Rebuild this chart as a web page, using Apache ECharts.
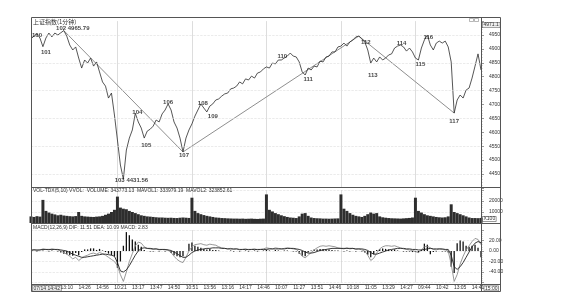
<!DOCTYPE html>
<html><head><meta charset="utf-8">
<script src="https://cdn.jsdelivr.net/npm/echarts/dist/echarts.min.js"></script>
<style>html,body{margin:0;padding:0;background:#fff}#c{width:561px;height:308px}</style>
</head><body><div id="c"></div>
<script>
// ---- data ----
const price = [
4936,4946,4954,4939,4908,4939,4957,4943,4957,4950,4958,4965.79,4946,4914,4896,4907,4867,4831,4860,4849,
4867,4838,4853,4817,4781,4766,4723,4741,4662,4572,4482,4431.56,4536,4579,4608,4668,4637,4615,4579,4604,
4611,4622,4644,4637,4666,4680,4702,4680,4637,4615,4579,4529,4579,4608,4630,4658,4680,4702,4687,4673,
4694,4702,4716,4720,4730,4738,4741,4756,4759,4766,4781,4774,4792,4788,4802,4795,4813,4817,4828,4835,
4831,4849,4846,4860,4860,4867,4874,4885,4874,4871,4853,4817,4806,4831,4824,4838,4835,4856,4853,4871,
4874,4889,4889,4907,4910,4921,4910,4925,4932,4943,4946,4936,4925,4896,4849,4867,4853,4871,4860,4867,
4878,4882,4903,4910,4914,4907,4892,4903,4889,4867,4860,4903,4932,4950,4914,4896,4921,4928,4921,4928,
4907,4853,4669,4716,4734,4723,4752,4759,4795,4838,4882,4824];
const volume = [
6000,5500,6200,5800,21000,11000,9500,8500,7800,7000,7500,6800,6500,6200,6000,6300,
10000,6500,6000,5800,5600,5500,5800,6000,6500,7500,8500,10000,12000,24000,
14000,13000,12500,11000,10000,9000,8000,7000,6500,6000,5800,5500,5200,5000,5000,4800,4700,4800,4600,4500,4800,5000,4800,4600,
23000,11000,9000,8000,7200,6500,6000,5500,5000,4800,4500,4400,4200,4100,4000,4000,3900,4000,3800,3900,4000,3800,3700,3900,4000,
26000,12000,10500,9000,8000,7000,6200,5500,5000,4800,4500,6000,8500,9000,6500,5000,4500,4300,4200,4000,4000,3900,4000,4100,4200,
26000,13000,11000,9000,7500,6500,6000,5500,6500,8000,9500,8500,9000,6000,5200,4800,4500,4300,4200,4100,4000,4200,4400,4600,5000,
23000,11000,9500,8000,7000,6500,6000,5500,5200,5000,5200,6000,
17000,10000,9000,8000,7000,6000,5000,4500,4500,4400,4600];
const dif = [
2,3,1,2,4, 3,2,4,3,2, 0,-3,-6, -10,-15,-12,-18,-14,-10, -8,-5,-4,-6,-3,-5,-8, -12,-16,-20,
-28,-45,-58,-40,-20,-5,10,17,15,8, 5,4,3,4,2,3,2, 2,-3,-10,-16,-20,-22,-12,0,8,
12,13,14,12,11,13,12,11, 8,6,5,4,5,3,4,2,3,4,2,3,4,2,3,4, 6,5,4,6,5,4,5,6,5,4,3,
-2,-10,-13,-8,-3,2, 6,9,10,9,10,9,8,6, 5,4,6,4,5,3,4,2,0, -8,-18,-14,-4,
4,8,10,10,9,10,8, 6,4,3,2,1,-1,-3, 2,8,9, 6,3,2,4,3,2,0,
-25,-58,-45,-25,-10,2,10,18,24,22,12];
const dea = [
1,2,2,2,3, 3,3,3,3,3, 2,1,0, -3,-6,-8,-10,-12,-12, -11,-10,-9,-8,-7,-6,-6, -7,-8,-10,
-22,-38,-40,-36,-28,-18,-8,0,5,6, 5,5,4,4,3,3,3, 2,1,-2,-5,-9,-12,-12,-8,-3,
0,2,3,4,5,5,6,6, 6,5,5,4,4,4,4,3,3,3,3,3,3,3,3,3, 3,4,4,4,4,4,4,5,5,5,4,
3,1,-2,-4,-4,-3, -1,1,2,3,4,5,5,5, 5,5,5,5,5,4,4,4,3, 1,-3,-6,-6,
-4,-2,0,2,3,4,5, 5,5,4,4,3,3,2, 2,3,4, 5,4,4,4,4,3,3,
-8,-30,-35,-30,-22,-12,-2,8,15,18,16];
const macdHist = [
0,0,-1,0,1, 0,-1,1,0,-1, -3,-5,-6, -8,-9,-4,-8,-2,3, 3,5,5,2,4,1,-2, -5,-8,-10,
-32,-20,10,36,30,22,18,12,8,2, 0,-1,-1,0,-1,0,-1, 0,-4,-8,-10,-12,-10,0,14,16,
10,8,6,4,3,4,2,2, 1,0,0,0,1,-1,0,-1,0,1,-1,0,1,-1,0,1, 2,1,0,2,1,0,1,1,0,-1,-1,
-5,-9,-10,-3,1,3, 3,4,4,3,3,2,1,1, 0,-1,1,-1,0,-1,0,-1,-3, -7,-12,-6,2,
4,5,4,3,2,3,1, 0,-1,-1,-1,-2,-2,-3, 2,14,12, -6,-2,-1,0,-1,-1,-3,
-30,-42,15,20,18,10,8,10,12,6,-12];
const pivotNames = ['100','101','102 4965.79','103 4431.56','104','105','106','107','108','109','110','111','112','113','114','115','116','117'];
const pivotIdx   = [1,4,11,31,35,38,46,51,57,59,87,92,110,114,124,130,133,142];
const zigzagNames = ['102 4965.79','107','112','117'];
const sessionBreaks = [29,54,79,104,129];
const xTickLabels = ['07/14 14:42','11:42','13:10','14:26','14:56','10:21','13:17','13:47','14:50','10:51','13:56','13:16','14:17',
  '14:46','10:07','11:27','13:51','14:46','10:18','11:05','13:29','14:27','09:44','10:42','13:05','14:41'];
const lastTimeLabel = '15:00';
const priceLevels = [4450,4550,4650,4750,4850,4950];
const title = '上证指数(1分钟)';
const volHeader = 'VOL-TDX(5,10) VVOL:  VOLUME: 343773.13  MAVOL1: 333979.19  MAVOL2: 323852.61';
const macdHeader = 'MACD(12,26,9) DIF: 11.51 DEA: 10.09 MACD: 2.83';
const lastPriceTag = '4971.1';
const volUnit = 'X100';

// ---- styling (label offsets for pivot names) ----
const pivotOffsets = [[3,-1],[3,6],[9,-2],[8,1],[2,-1],[2,7],[0,-2],[1,3],[2,-1],[6,4],[-8,3],[3,4],[7,6],[2,12],[1,-2],[2,4],[1,2],[0,8]];

const categories = price.map((_, i) => String(i));
const FONT = 'Liberation Sans, Arial, sans-serif';
const chart = echarts.init(document.getElementById('c'), null, {renderer: 'canvas'});

const xBase = (gi, showLabel) => ({
  type: 'category', gridIndex: gi, data: categories, boundaryGap: false,
  axisLine: {show: false}, axisTick: {show: false},
  axisLabel: showLabel ? {
    show: true, interval: 5, fontSize: 5, color: '#333', margin: 3, fontFamily: FONT,
    formatter: (v, idx) => { const k = Math.round(idx / 6); return k === 0 ? '' : (xTickLabels[k] || ''); }
  } : {show: false},
  splitLine: {show: true, interval: (idx) => sessionBreaks.includes(idx), lineStyle: {color: '#cfcfcf', width: 0.7}}
});
const yBase = (gi, min, max, interval, fmt) => ({
  type: 'value', gridIndex: gi, position: 'right', min, max, interval,
  axisLine: {show: false},
  axisTick: {show: true, length: 3, inside: false, lineStyle: {color: '#555', width: 0.6}},
  minorTick: {show: true, splitNumber: 5, length: 1.5, lineStyle: {color: '#777', width: 0.5}},
  axisLabel: {fontSize: 5, color: '#333', margin: 8, fontFamily: FONT, showMinLabel: false, showMaxLabel: false,
    formatter: fmt || (v => String(v))},
  splitLine: {show: gi !== 0, lineStyle: {color: '#dddddd', type: 'dashed', width: 0.6}}
});

const gText = (x, y, text, extra) => ({type: 'text', x, y, silent: true, z: 100,
  style: Object.assign({text, fontSize: 5, fill: '#333', fontFamily: FONT}, extra || {})});
const gLine = (x1, y1, x2, y2) => ({type: 'line', silent: true, z: 100,
  shape: {x1, y1, x2, y2}, style: {stroke: '#555', lineWidth: 1}});

chart.setOption({
  animation: false,
  backgroundColor: '#fff',
  grid: [
    {left: 31, right: 80, top: 21.1, height: 166.7, containLabel: false, outerBoundsMode: 'none'},
    {left: 31, right: 80, top: 190, height: 33, containLabel: false, outerBoundsMode: 'none'},
    {left: 31, right: 80, top: 230, height: 52.5, containLabel: false, outerBoundsMode: 'none'}
  ],
  xAxis: [xBase(0, false), xBase(1, false), xBase(2, true)],
  yAxis: [
    yBase(0, 4400, 5000, 50),
    yBase(1, 0, 30000, 10000),
    yBase(2, -60, 40, 20, v => v.toFixed(2))
  ],
  series: [
    {type: 'line', xAxisIndex: 0, yAxisIndex: 0, data: price, symbol: 'none', z: 3,
     lineStyle: {color: '#2b2b2b', width: 0.8},
     markLine: {silent: true, symbol: ['none', 'none'], label: {show: false},
       lineStyle: {color: '#dedede', type: 'dashed', width: 0.6},
       data: priceLevels.map(v => ({yAxis: v}))}},
    {type: 'line', xAxisIndex: 0, yAxisIndex: 0, symbol: 'none', z: 2,
     lineStyle: {color: '#8f8f8f', width: 1},
     data: zigzagNames.map(n => { const i = pivotIdx[pivotNames.indexOf(n)]; return [i, price[i]]; })},
    {type: 'scatter', xAxisIndex: 0, yAxisIndex: 0, symbolSize: 1, z: 5,
     itemStyle: {color: 'rgba(0,0,0,0)'},
     data: pivotNames.map((n, k) => ({name: n, value: [pivotIdx[k], price[pivotIdx[k]]],
       label: {offset: pivotOffsets[k]}})),
     label: {show: true, position: 'inside', formatter: p => p.name, fontSize: 6, fontWeight: 'bold',
       color: '#111', fontFamily: FONT}},
    {type: 'bar', xAxisIndex: 1, yAxisIndex: 1, data: volume, barWidth: '100%', barCategoryGap: '0%',
     itemStyle: {color: '#2e2e2e'}},
    {type: 'bar', xAxisIndex: 2, yAxisIndex: 2, data: macdHist, barWidth: 1.3, itemStyle: {color: '#111'}},
    {type: 'line', xAxisIndex: 2, yAxisIndex: 2, data: dif, symbol: 'none', lineStyle: {color: '#8c8c8c', width: 0.9}},
    {type: 'line', xAxisIndex: 2, yAxisIndex: 2, data: dea, symbol: 'none', lineStyle: {color: '#222', width: 0.9}}
  ],
  graphic: [
    {type: 'rect', silent: true, z: 100, shape: {x: 31.5, y: 17.5, width: 469, height: 274},
     style: {fill: 'none', stroke: '#555', lineWidth: 1}},
    gLine(481.5, 17.5, 481.5, 291.5),
    gLine(31.5, 187.5, 500.5, 187.5),
    gLine(31.5, 223.5, 500.5, 223.5),
    gLine(31.5, 284.5, 500.5, 284.5),
    {type: 'rect', silent: true, z: 100, shape: {x: 469.5, y: 18.5, width: 4, height: 3}, style: {fill: 'none', stroke: '#888', lineWidth: 0.6}},
    {type: 'rect', silent: true, z: 100, shape: {x: 474.5, y: 18.5, width: 4, height: 3}, style: {fill: 'none', stroke: '#888', lineWidth: 0.6}},
    gText(33, 18.5, title, {fontSize: 6, fontFamily: 'Noto Sans CJK SC, sans-serif'}),
    gText(33, 188.5, volHeader),
    gText(33, 224.8, macdHeader),
    gText(482.5, 22.5, lastPriceTag, {borderColor: '#555', borderWidth: 0.6, padding: [0, 1, 0, 1], backgroundColor: '#eee'}),
    gText(482.5, 216.5, volUnit, {borderColor: '#555', borderWidth: 0.6, padding: [0, 1, 0, 1]}),
    gText(32.5, 285.8, xTickLabels[0], {borderColor: '#555', borderWidth: 0.6, padding: [0, 1, 0, 1], backgroundColor: '#eee'}),
    gText(484, 285.8, lastTimeLabel, {borderColor: '#555', borderWidth: 0.6, padding: [0, 1, 0, 1]})
  ]
});
</script></body></html>
